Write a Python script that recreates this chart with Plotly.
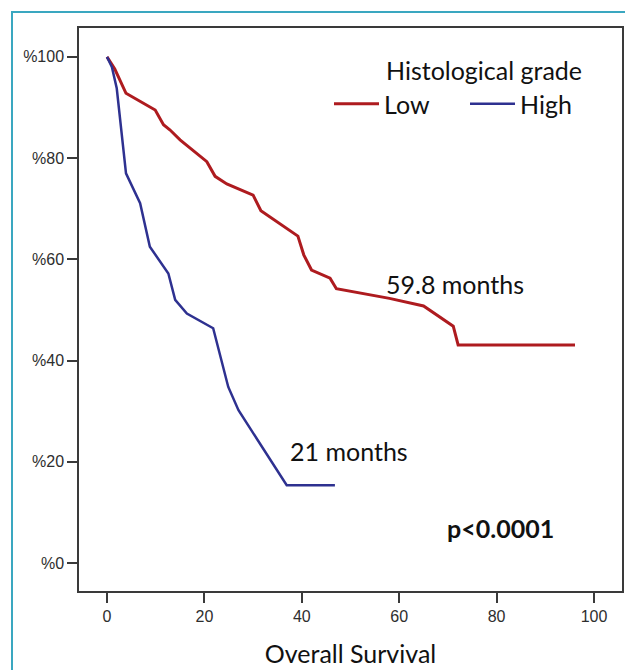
import plotly.graph_objects as go

# Data (months, survival %)
low_months = [0, 1.6, 3.9, 7.5, 9.9, 11.6, 12.9, 15, 20.5, 22.2, 24.6, 30, 31.6, 39.2, 40.4, 42, 45.8, 47.1, 58, 65, 71.1, 72.1, 96.1]
low_surv = [100, 97.6, 92.8, 90.8, 89.5, 86.6, 85.6, 83.6, 79.3, 76.4, 74.9, 72.7, 69.6, 64.6, 60.9, 57.9, 56.3, 54.2, 52.3, 50.8, 46.8, 43.1, 43.1]

high_months = [0, 1.0, 2.0, 3.9, 6.8, 8.8, 12.6, 14.0, 16.4, 21.8, 24.9, 27.0, 36.9, 46.8]
high_surv = [100, 98, 93.8, 77, 71.1, 62.5, 57.2, 52, 49.3, 46.4, 34.8, 30.2, 15.4, 15.4]

y_ticks = [0, 20, 40, 60, 80, 100]
y_tick_text = ["%0", "%20", "%40", "%60", "%80", "%100"]
x_ticks = [0, 20, 40, 60, 80, 100]

series_names = ["Low", "High"]
median_low_label = "59.8 months"
median_high_label = "21 months"
p_label = "p<0.0001"
legend_title = "Histological grade"
x_title = "Overall Survival"

RED = "#AE1B1F"
BLUE = "#2E3190"
TXT_FONT = "Lato"
TXT_SIZE = 25

# page offset (body margin) compensation
OFF = 8
L, T, PW, PH = 79 - OFF, 28 - OFF, 543, 563

fig = go.Figure()
fig.add_trace(go.Scatter(x=low_months, y=low_surv, mode="lines", name=series_names[0],
                         line=dict(color=RED, width=3)))
fig.add_trace(go.Scatter(x=high_months, y=high_surv, mode="lines", name=series_names[1],
                         line=dict(color=BLUE, width=2.5)))

axis_common = dict(showline=True, linecolor="#3a3a3a", linewidth=1.5, mirror=True,
                   ticks="outside", ticklen=10, tickwidth=1.5, tickcolor="#3a3a3a",
                   showgrid=False, zeroline=False,
                   tickfont=dict(family="Liberation Sans", size=16, color="#2e2e2e"))

fig.update_xaxes(range=[-5.75, 105.75], tickvals=x_ticks, **axis_common,
                 title=dict(text=x_title, font=dict(family=TXT_FONT, size=TXT_SIZE, color="#111"), standoff=22))
fig.update_yaxes(range=[-5.5, 105.7], tickvals=y_ticks, ticktext=y_tick_text, **axis_common)

fig.add_annotation(x=71.5, y=55.1, text=median_low_label, showarrow=False,
                   font=dict(family=TXT_FONT, size=TXT_SIZE, color="#111"))
fig.add_annotation(x=49.7, y=22.1, text=median_high_label, showarrow=False,
                   font=dict(family=TXT_FONT, size=TXT_SIZE, color="#111"))
fig.add_annotation(x=80.9, y=6.9, text="<b>" + p_label + "</b>", showarrow=False,
                   font=dict(family=TXT_FONT, size=TXT_SIZE, color="#111"))
fig.add_annotation(x=77.4, y=97.4, text=legend_title, showarrow=False,
                   font=dict(family=TXT_FONT, size=TXT_SIZE, color="#111"))

# Teal outer frame (screen px converted to paper coords)
def px_x(p):
    return (p - OFF - L) / PW

def px_y(p):
    return 1 - (p - OFF - T) / PH

fig.add_shape(type="rect", xref="paper", yref="paper",
              x0=px_x(12), x1=px_x(660), y0=px_y(700), y1=px_y(12),
              line=dict(color="#3AA7C0", width=2), layer="below")

fig.update_layout(
    width=633, height=670,
    margin=dict(l=L, r=633 - L - PW, t=T, b=670 - T - PH),
    paper_bgcolor="white", plot_bgcolor="white",
    showlegend=True,
    legend=dict(orientation="h", x=px_x(329), y=px_y(104),
                xanchor="left", yanchor="middle", entrywidth=76,
                font=dict(family=TXT_FONT, size=TXT_SIZE, color="#111"),
                bgcolor="rgba(0,0,0,0)", itemwidth=45),
)

fig.write_html("out.html")
